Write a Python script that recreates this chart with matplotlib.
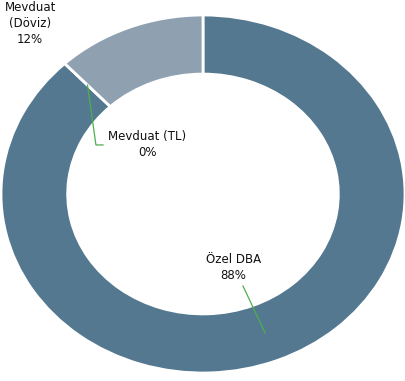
import numpy as np
import matplotlib.pyplot as plt

labels = ['Özel DBA', 'Mevduat (TL)', 'Mevduat\n(Döviz)']
shares = [88, 0, 12]
colors = ['#54788f', '#54788f', '#8fa1b0']

fig = plt.figure(figsize=(4.06, 3.81), dpi=100)
ax = fig.add_axes([1 / 406, 8 / 381, 404 / 406, 358 / 381])

wedges, _ = ax.pie(shares, colors=colors, startangle=90, counterclock=False,
                   radius=1, wedgeprops=dict(width=0.33, edgecolor='white', linewidth=2))
ax.set_aspect('auto')
ax.set_xlim(-1, 1)
ax.set_ylim(-1, 1)

total = sum(shares)
green = '#4cb04c'
font = dict(fontsize=8.5, color='#111111', ha='center', va='center', linespacing=1.3)


def mid_point(i, r=0.835):
    w = wedges[i]
    ang = np.deg2rad((w.theta1 + w.theta2) / 2)
    return r * np.cos(ang), r * np.sin(ang)


# Özel DBA label inside the hole with a leader line
x0, y0 = mid_point(0)
ax.plot([x0, 0.198], [y0, -0.514], color=green, lw=0.9, clip_on=False)
ax.text(0.149, -0.413, f'{labels[0]}\n{shares[0] / total:.0%}', **font)

# Mevduat (TL) label with an elbow leader line
x1, y1 = mid_point(1)
ax.plot([x1, -0.53, -0.495], [y1, 0.274, 0.274], color=green, lw=0.9, clip_on=False)
ax.text(-0.277, 0.274, f'{labels[1]}\n{shares[1] / total:.0%}', **font)

# Mevduat (Döviz) label outside the ring
ax.text(-0.856, 0.95, f'{labels[2]}\n{shares[2] / total:.0%}', clip_on=False, **font)

fig.savefig('out.png', dpi=100)
